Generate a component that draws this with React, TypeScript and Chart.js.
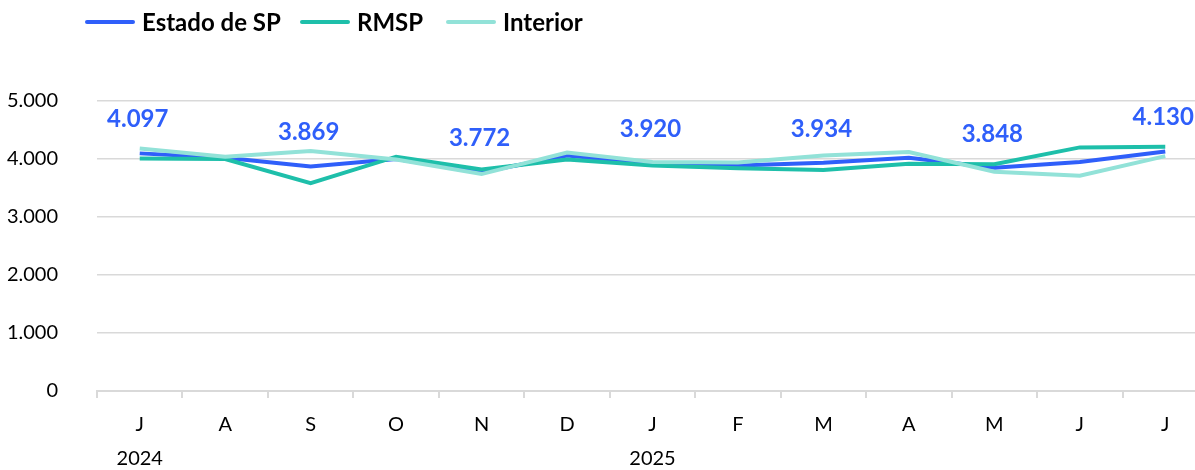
import React, { useEffect, useRef } from "react";
import { Chart, registerables } from "chart.js";

Chart.register(...registerables);

const months = ["J", "A", "S", "O", "N", "D", "J", "F", "M", "A", "M", "J", "J"];
const years = ["2024", "", "", "", "", "", "2025", "", "", "", "", "", ""];
const estadoSP = [4097, 4020, 3869, 4000, 3772, 4060, 3920, 3890, 3934, 4020, 3848, 3950, 4130];
const rmsp = [4010, 4000, 3584, 4040, 3820, 3990, 3890, 3840, 3810, 3920, 3910, 4200, 4210];
const interior = [4180, 4040, 4137, 3990, 3740, 4110, 3950, 3940, 4060, 4120, 3780, 3710, 4050];
const yTicks = [0, 1000, 2000, 3000, 4000, 5000];
const seriesNames = ["Estado de SP", "RMSP", "Interior"];
const labeledIdx = [0, 2, 4, 6, 8, 10, 12];

const BLUE = "#2F5FFA";
const TEAL = "#1EBFAA";
const LIGHT = "#92E2D8";
const GRID = "#d9d9d9";
const FONT = "Lato, 'Open Sans', sans-serif";

const fmt = (v: number) => String(Math.round(v)).replace(/\B(?=(\d{3})+(?!\d))/g, ".");

const legendPlugin = {
  id: "customLegend",
  afterDraw(chart: any) {
    const ctx = chart.ctx;
    const starts = [85, 300, 446];
    const y = 22;
    ctx.save();
    ctx.font = `bold 24px ${FONT}`;
    ctx.textBaseline = "middle";
    ctx.textAlign = "left";
    chart.data.datasets.forEach((ds: any, i: number) => {
      const x = starts[i];
      ctx.strokeStyle = ds.borderColor;
      ctx.lineWidth = 4;
      ctx.lineCap = "round";
      ctx.beginPath();
      ctx.moveTo(x + 2, y);
      ctx.lineTo(x + 48, y);
      ctx.stroke();
      ctx.fillStyle = "#000";
      ctx.fillText(ds.label, x + 57, y + 1);
    });
    ctx.restore();
  },
};

const dataLabelPlugin = {
  id: "dataLabels",
  afterDatasetsDraw(chart: any) {
    const ctx = chart.ctx;
    const meta = chart.getDatasetMeta(0);
    const ds = chart.data.datasets[0];
    ctx.save();
    ctx.font = `bold 24px ${FONT}`;
    ctx.fillStyle = BLUE;
    ctx.textAlign = "center";
    ctx.textBaseline = "middle";
    labeledIdx.forEach((i) => {
      const pt = meta.data[i];
      if (!pt) return;
      ctx.fillText(fmt(ds.data[i]), pt.x - 2, pt.y - 34);
    });
    ctx.restore();
  },
};

export default function App() {
  const ref = useRef<HTMLCanvasElement | null>(null);
  useEffect(() => {
    if (!ref.current) return;
    const labels = months.map((m, i) => (years[i] ? [m, years[i]] : m));
    const chart = new Chart(ref.current, {
      type: "line",
      data: {
        labels,
        datasets: [
          { label: seriesNames[0], data: estadoSP, borderColor: BLUE, backgroundColor: BLUE, borderWidth: 4, pointRadius: 0, order: 3, tension: 0 },
          { label: seriesNames[1], data: rmsp, borderColor: TEAL, backgroundColor: TEAL, borderWidth: 4, pointRadius: 0, order: 2, tension: 0 },
          { label: seriesNames[2], data: interior, borderColor: LIGHT, backgroundColor: LIGHT, borderWidth: 4, pointRadius: 0, order: 1, tension: 0 },
        ],
      },
      options: {
        animation: false,
        responsive: true,
        maintainAspectRatio: false,
        layout: { padding: { top: 101, left: 0, right: 4, bottom: 0 } },
        plugins: { legend: { display: false }, tooltip: { enabled: false } },
        scales: {
          x: {
            offset: true,
            grid: { offset: true, drawOnChartArea: false, drawTicks: true, tickLength: 7, color: GRID, lineWidth: 2 },
            border: { display: true, color: GRID, width: 2 },
            ticks: { color: "#000", padding: 10, maxRotation: 0, autoSkip: false, font: { family: FONT, size: 20, lineHeight: 1.7 } },
            afterFit: (s: any) => { s.height = 79; },
          },
          y: {
            min: 0,
            max: 5000,
            afterBuildTicks: (s: any) => { s.ticks = yTicks.map((v) => ({ value: v })); },
            grid: { color: GRID, lineWidth: 1.5, drawTicks: false },
            border: { display: false },
            ticks: { color: "#000", padding: 39, font: { family: FONT, size: 20 }, callback: (v: any) => fmt(Number(v)) },
            afterFit: (s: any) => { s.width = 97; },
          },
        },
      },
      plugins: [legendPlugin, dataLabelPlugin],
    });
    return () => chart.destroy();
  }, []);
  return (
    <div style={{ position: "fixed", left: 0, top: 0, width: 1195, height: 470, overflow: "hidden", background: "#fff" }}>
      <div style={{ position: "relative", width: 1212, height: 470 }}>
        <canvas ref={ref} />
      </div>
    </div>
  );
}
